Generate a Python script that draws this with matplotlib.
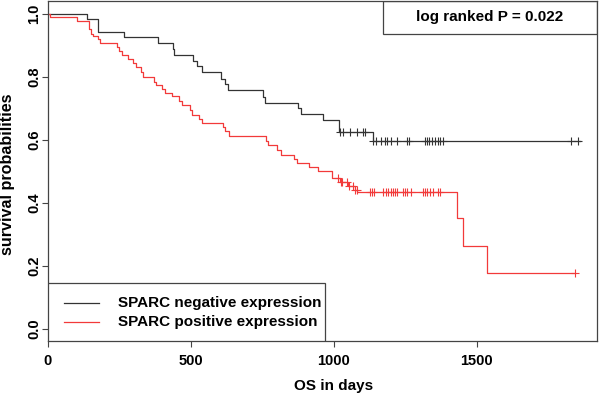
import numpy as np
import matplotlib
matplotlib.use("Agg")
import matplotlib.pyplot as plt
from matplotlib.patches import Rectangle

plt.rcParams['font.family'] = ['Liberation Sans', 'DejaVu Sans']
plt.rcParams['font.weight'] = 'bold'
plt.rcParams['axes.labelweight'] = 'bold'

# SPARC negative expression: step times (days) and survival after each step
neg_times = [0, 135, 174, 267, 386, 436, 440, 506, 520, 537, 605, 619, 628,
             751, 759, 875, 885, 960, 1019, 1135]
neg_surv = [1.0, 0.982, 0.943, 0.925, 0.907, 0.888, 0.869, 0.851, 0.832, 0.813,
            0.793, 0.775, 0.756, 0.734, 0.717, 0.699, 0.680, 0.662, 0.623, 0.597]
neg_end = 1860
neg_censor = [1021, 1033, 1056, 1082, 1103, 1108,
              1137, 1147, 1163, 1178, 1184, 1198, 1219, 1254, 1262, 1318, 1324,
              1333, 1342, 1353, 1365, 1371, 1382, 1828, 1854]

# SPARC positive expression
pos_times = [0, 6, 103, 145, 150, 159, 176, 182, 242, 248, 258, 281, 298, 307,
             324, 333, 371, 376, 400, 409, 432, 459, 467, 497, 502, 528, 540,
             613, 619, 634, 761, 770, 800, 815, 861, 872, 913, 943, 994, 1021,
             1050, 1073, 1081, 1429, 1450, 1537]
pos_surv = [1.0, 0.99, 0.976, 0.951, 0.935, 0.928, 0.919, 0.907, 0.893, 0.88,
            0.87, 0.856, 0.844, 0.83, 0.814, 0.798, 0.784, 0.774, 0.761, 0.748,
            0.737, 0.724, 0.711, 0.694, 0.679, 0.666, 0.653, 0.641, 0.626, 0.61,
            0.597, 0.584, 0.568, 0.552, 0.537, 0.526, 0.512, 0.499, 0.477,
            0.465, 0.452, 0.441, 0.435, 0.35, 0.263, 0.177]
pos_end = 1843
pos_censor = [1015, 1024, 1027, 1044, 1052, 1068, 1075, 1079,
              1126, 1132, 1140, 1172, 1182, 1190, 1198, 1207, 1213, 1221, 1240,
              1248, 1254, 1268, 1310, 1318, 1326, 1336, 1347, 1363, 1371, 1843]

labels = ['SPARC negative expression', 'SPARC positive expression']
colors = ['#333333', '#f23a3a']
p_text = 'log ranked P = 0.022'
frame_col = '#444444'


def surv_at(times, surv, t):
    idx = np.searchsorted(times, t, side='right') - 1
    return np.array(surv)[idx]


fig = plt.figure(figsize=(6, 3.93), dpi=100)
ax = fig.add_axes([0.08, 0.132, 0.915, 0.8655])

groups = [(neg_times, neg_surv, neg_end, neg_censor),
          (pos_times, pos_surv, pos_end, pos_censor)]
for (t, s, end, cens), col in zip(groups, colors):
    tt = list(t) + [end]
    ss = list(s) + [s[-1]]
    ax.step(tt, ss, where='post', color=col, lw=0.9)
    ax.plot(cens, surv_at(t, s, cens), ls='none', marker='+', ms=6,
            mew=0.8, color=col)

ax.set_xlim(0, 1920)
ax.set_ylim(-0.04, 1.04)
ax.set_xticks([0, 500, 1000, 1500])
ax.set_yticks([0.0, 0.2, 0.4, 0.6, 0.8, 1.0])
ax.set_yticklabels(['0.0', '0.2', '0.4', '0.6', '0.8', '1.0'],
                   rotation=90, va='center')
ax.tick_params(direction='out', length=4, width=0.8, color=frame_col,
               labelsize=10.5)
ax.tick_params(axis='y', pad=1)
ax.tick_params(axis='x', pad=5)
for sp in ax.spines.values():
    sp.set_color(frame_col)
    sp.set_linewidth(0.9)

ax.set_xlabel('OS in days', fontsize=11)
ax.xaxis.set_label_coords(0.52, -0.112)
ax.set_ylabel('survival probabilities', fontsize=11.6)
ax.yaxis.set_label_coords(-0.06, 0.49)

# legend box drawn R-style (lower left, flush with the axes)
ax.add_patch(Rectangle((0, 0), 0.5046, 0.1706, transform=ax.transAxes,
                       facecolor='white', edgecolor=frame_col, lw=0.9,
                       zorder=5))
for i, (lab, col) in enumerate(zip(labels, colors)):
    yy = 0.1118 - i * 0.0559
    ax.plot([0.029, 0.093], [yy, yy], transform=ax.transAxes, color=col,
            lw=0.9, zorder=6)
    ax.text(0.1275, yy, lab, transform=ax.transAxes, va='center', ha='left',
            fontsize=11, zorder=6)

ax.add_patch(Rectangle((0.61, 0.903), 0.39, 0.097, transform=ax.transAxes,
                       fill=False, edgecolor=frame_col, lw=0.9))
ax.text(0.805, 0.952, p_text, transform=ax.transAxes, ha='center',
        va='center', fontsize=11)

fig.savefig('out.png', dpi=100)
